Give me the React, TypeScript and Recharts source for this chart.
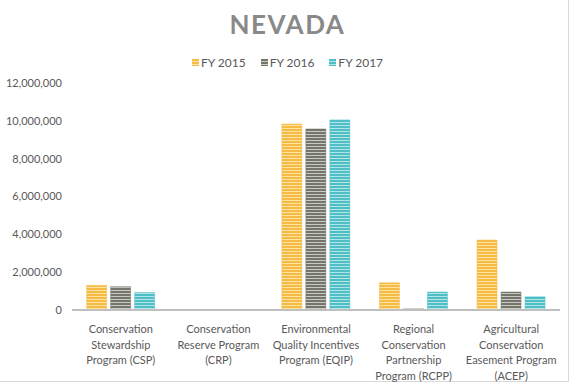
import React from 'react';
import { BarChart, Bar, XAxis, YAxis } from 'recharts';

// Programas (etiquetas del eje X, una línea por elemento)
const programs = [
  'Conservation\nStewardship\nProgram (CSP)',
  'Conservation\nReserve Program\n(CRP)',
  'Environmental\nQuality Incentives\nProgram (EQIP)',
  'Regional\nConservation\nPartnership\nProgram (RCPP)',
  'Agricultural\nConservation\nEasement Program\n(ACEP)',
];

const fy2015 = [1300000, 0, 9830000, 1440000, 3700000];
const fy2016 = [1230000, 0, 9570000, 60000, 950000];
const fy2017 = [920000, 0, 10050000, 950000, 700000];

const yTicks = [0, 2000000, 4000000, 6000000, 8000000, 10000000, 12000000];

const SERIES = [
  { key: 'fy2015', name: 'FY 2015', color: '#f5bb45', light: '#fde3a0' },
  { key: 'fy2016', name: 'FY 2016', color: '#75756c', light: '#c9c9c3' },
  { key: 'fy2017', name: 'FY 2017', color: '#4fbfc7', light: '#b5e4e7' },
];

const data = programs.map((p, i) => ({
  program: p,
  fy2015: fy2015[i],
  fy2016: fy2016[i],
  fy2017: fy2017[i],
}));

const FONT = 'Lato, "DejaVu Sans", sans-serif';

const ProgramTick = (props: any) => {
  const { x, y, payload } = props;
  const lines = String(payload.value).split('\n');
  return (
    <text x={x} y={y + 15} textAnchor="middle" fill="#595959" fontSize={11} fontFamily={FONT}>
      {lines.map((l, i) => (
        <tspan key={i} x={x} dy={i === 0 ? 0 : 15.7}>{l}</tspan>
      ))}
    </text>
  );
};

const LegendBox = () => (
  <div style={{ position: 'absolute', left: 0, top: 55, width: 575, display: 'flex', justifyContent: 'center', gap: 15, fontFamily: FONT, fontSize: 12, color: '#595959' }}>
    {SERIES.map(s => (
      <div key={s.key} style={{ display: 'flex', alignItems: 'center', gap: 2 }}>
        <svg width={7} height={7}>
          <defs>
            <pattern id={`lg-${s.key}`} width={4} height={3} patternUnits="userSpaceOnUse">
              <rect width={4} height={3} fill={s.light} />
              <rect width={4} height={2} fill={s.color} />
            </pattern>
          </defs>
          <rect width={7} height={7} fill={`url(#lg-${s.key})`} />
        </svg>
        <span>{s.name}</span>
      </div>
    ))}
  </div>
);

export default function App() {
  return (
    <div style={{ position: 'fixed', left: 0, top: 0, width: 575, height: 384, background: '#fff' }}>
      <div style={{ position: 'absolute', left: 0, top: 0, width: 568, height: 381, borderRight: '1px solid #d9d9d9', borderBottom: '1px solid #d9d9d9' }} />
      <div style={{ position: 'absolute', left: 0, top: 8, width: 575, textAlign: 'center', fontFamily: FONT, fontWeight: 700, fontSize: 26, letterSpacing: 1.5, color: '#898989' }}>
        NEVADA
      </div>
      <LegendBox />
      <div style={{ position: 'absolute', left: 0, top: 0 }}>
        <BarChart width={575} height={384} data={data} margin={{ top: 83, right: 15, left: 0, bottom: 0 }} barCategoryGap="15%" barGap={4}>
          <defs>
            {SERIES.map(s => (
              <pattern key={s.key} id={`stripe-${s.key}`} width={4} height={3} patternUnits="userSpaceOnUse">
                <rect width={4} height={3} fill={s.light} />
                <rect width={4} height={2} fill={s.color} />
              </pattern>
            ))}
          </defs>
          <XAxis dataKey="program" interval={0} tick={<ProgramTick />} tickLine={false} axisLine={{ stroke: '#bfbfbf', strokeWidth: 2 }} height={74} />
          <YAxis
            domain={[0, 12000000]}
            ticks={yTicks}
            width={72}
            tickMargin={4}
            axisLine={false}
            tickLine={false}
            tick={{ fill: '#595959', fontSize: 11, fontFamily: FONT }}
            tickFormatter={(v: number) => v.toLocaleString('en-US')}
          />
          {SERIES.map(s => (
            <Bar key={s.key} dataKey={s.key} name={s.name} fill={`url(#stripe-${s.key})`} stroke={s.color} strokeWidth={0.5} isAnimationActive={false} />
          ))}
        </BarChart>
      </div>
    </div>
  );
}
